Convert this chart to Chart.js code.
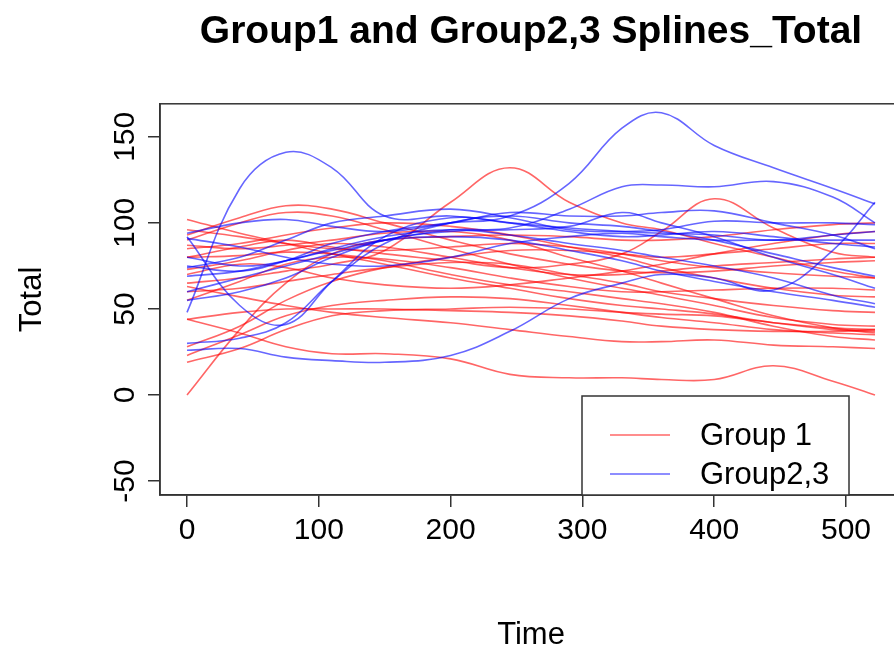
<!DOCTYPE html>
<html>
<head>
<meta charset="utf-8">
<script src="https://cdn.jsdelivr.net/npm/chart.js@4/dist/chart.umd.min.js"></script>
<style>
  html, body { margin: 0; padding: 0; overflow: hidden; background: #fff; width: 894px; height: 654px; }
  canvas { display: block; }
</style>
</head>
<body>
<canvas id="c" width="1063" height="654"></canvas>
<script>
// Knot times shared by every smoothed series
const TIME = [0, 40, 75, 110, 150, 200, 245, 290, 330, 360, 400, 445, 490, 522];

// Group 1 splines
const r01 = [65, 68, 72, 76, 84, 112, 132, 112, 100, 96, 88, 80, 72, 68];
const r02 = [80, 86, 90, 86, 82, 78, 74, 76, 82, 95, 114, 97, 83, 80];
const r03 = [44, 36, 28, 24, 24, 21, 12, 10, 10, 9, 9, 17, 8, 0];
const r04 = [0, 38, 65, 82, 90, 92, 93, 92, 90, 90, 92, 96, 99, 100];
const r05 = [19, 27, 38, 46, 49, 50, 51, 50, 48, 47, 46, 42, 39, 38];
const r06 = [23, 35, 46, 52, 55, 57, 56, 52, 48, 45, 42, 38, 36, 35];
const r07 = [102, 94, 88, 82, 76, 68, 62, 56, 52, 50, 47, 42, 38, 37];
const r08 = [96, 92, 88, 85, 84, 86, 88, 86, 82, 78, 74, 71, 69, 68];
const r09 = [93, 103, 110, 108, 100, 90, 82, 76, 72, 71, 72, 75, 77, 78];
const r10 = [90, 100, 106, 104, 96, 85, 76, 68, 62, 58, 52, 45, 41, 40];
const r11 = [87, 85, 87, 90, 94, 95, 90, 80, 72, 65, 56, 46, 39, 36];
const r12 = [80, 81, 83, 82, 78, 70, 64, 60, 56, 53, 48, 40, 34, 32];
const r13 = [73, 78, 84, 88, 86, 80, 74, 70, 70, 72, 75, 77, 79, 80];
const r14 = [63, 57, 52, 48, 45, 42, 38, 34, 31, 31, 32, 29, 28, 27];
const r15 = [55, 66, 76, 80, 79, 74, 68, 63, 60, 60, 61, 62, 62, 61];
const r16 = [44, 48, 50, 50, 50, 49, 48, 46, 43, 40, 38, 37, 37, 38];
const r17 = [70, 76, 74, 68, 64, 62, 64, 68, 72, 76, 82, 88, 93, 95];
const r18 = [85, 88, 93, 97, 100, 98, 93, 86, 80, 74, 68, 62, 58, 57];
const r19 = [60, 62, 66, 70, 74, 77, 76, 70, 65, 60, 56, 52, 49, 48];
const r20 = [28, 40, 55, 66, 74, 80, 84, 84, 82, 80, 82, 85, 88, 88];

// Group 2,3 splines
const b01 = [48, 120, 141, 132, 104, 104, 100, 95, 92, 93, 95, 92, 88, 86];
const b02 = [75, 72, 78, 88, 95, 100, 104, 123, 155, 164, 145, 132, 120, 111];
const b03 = [60, 68, 75, 82, 90, 96, 97, 108, 121, 122, 121, 124, 115, 100];
const b04 = [92, 52, 41, 66, 92, 103, 100, 97, 95, 94, 93, 90, 93, 95];
const b05 = [26, 27, 22, 20, 19, 23, 37, 56, 65, 70, 68, 61, 84, 112];
const b06 = [30, 33, 42, 66, 88, 100, 104, 100, 98, 95, 90, 82, 74, 69];
const b07 = [91, 86, 80, 76, 75, 80, 88, 92, 94, 92, 90, 90, 90, 90];
const b08 = [55, 60, 68, 80, 90, 95, 96, 98, 106, 100, 92, 80, 70, 62];
const b09 = [80, 75, 78, 85, 92, 96, 93, 88, 84, 80, 75, 68, 58, 53];
const b10 = [69, 72, 78, 84, 90, 92, 90, 84, 78, 72, 66, 60, 55, 51];
const b11 = [94, 100, 102, 98, 95, 100, 106, 104, 104, 106, 107, 100, 93, 85];
const b12 = [74, 80, 90, 100, 104, 108, 103, 96, 95, 96, 101, 100, 100, 99];

const GROUP1 = [r01, r02, r03, r04, r05, r06, r07, r08, r09, r10, r11, r12, r13, r14, r15, r16, r17, r18, r19, r20];
const GROUP23 = [b01, b02, b03, b04, b05, b06, b07, b08, b09, b10, b11, b12];

const X_TICKS = [0, 100, 200, 300, 400, 500];
const Y_TICKS = [-50, 0, 50, 100, 150];
const LEGEND_LABELS = ['Group 1', 'Group2,3'];
const TITLE = 'Group1 and Group2,3 Splines_Total';

const RED = 'rgba(255, 0, 0, 0.6)';
const BLUE = 'rgba(0, 0, 255, 0.6)';
const FONT = "'Liberation Sans', Arial, Helvetica, sans-serif";

Chart.defaults.font.family = FONT;
Chart.defaults.color = '#000';

function toPoints(series) {
  return series.map((v, i) => ({ x: TIME[i], y: v }));
}

const datasets = [];
GROUP23.forEach(s => datasets.push({ data: toPoints(s), borderColor: BLUE }));
GROUP1.forEach(s => datasets.push({ data: toPoints(s), borderColor: RED }));

// Plot frame drawn around the whole plotting region
const frame = {
  id: 'frame',
  afterDatasetsDraw(chart) {
    const { ctx, chartArea: a } = chart;
    ctx.save();
    ctx.strokeStyle = '#333';
    ctx.lineWidth = 1.5;
    ctx.strokeRect(a.left, a.top, a.right - a.left, a.bottom - a.top);
    ctx.restore();
  }
};

// Boxed key in the lower right of the plot
const keyBox = {
  id: 'keyBox',
  afterDraw(chart) {
    const { ctx, chartArea: a } = chart;
    const left = 582, top = 396, right = 849, bottom = a.bottom;
    ctx.save();
    ctx.fillStyle = '#fff';
    ctx.fillRect(left, top, right - left, bottom - top);
    ctx.strokeStyle = '#333';
    ctx.lineWidth = 1.5;
    ctx.strokeRect(left, top, right - left, bottom - top);
    const colors = [RED, BLUE];
    const rows = [435, 474];
    ctx.font = '31px ' + FONT;
    ctx.textBaseline = 'middle';
    ctx.textAlign = 'left';
    LEGEND_LABELS.forEach((label, i) => {
      ctx.strokeStyle = colors[i];
      ctx.lineWidth = 1.6;
      ctx.beginPath();
      ctx.moveTo(610, rows[i]);
      ctx.lineTo(670, rows[i]);
      ctx.stroke();
      ctx.fillStyle = '#000';
      ctx.fillText(label, 700, rows[i] + 1);
    });
    ctx.restore();
  }
};

new Chart(document.getElementById('c'), {
  type: 'line',
  data: { datasets },
  options: {
    responsive: false,
    animation: false,
    devicePixelRatio: 1,
    layout: { padding: { left: 0, right: 161, top: 0, bottom: 0 } },
    elements: {
      point: { radius: 0 },
      line: { borderWidth: 1.6, tension: 0.4, cubicInterpolationMode: 'default', fill: false }
    },
    plugins: {
      legend: { display: false },
      tooltip: { enabled: false },
      title: {
        display: true,
        text: TITLE,
        fullSize: false,
        color: '#000',
        font: { size: 39, weight: 'bold', family: FONT },
        padding: { top: 9, bottom: 48 }
      }
    },
    scales: {
      x: {
        type: 'linear',
        min: -20.5,
        max: 542.5,
        afterFit(s) { s.height = 159; },
        afterBuildTicks(s) { s.ticks = X_TICKS.map(v => ({ value: v })); },
        grid: { drawOnChartArea: false, drawTicks: true, tickLength: 12, color: '#333', lineWidth: 1.5 },
        border: { display: true, color: '#333', width: 1.5 },
        ticks: { font: { size: 30 }, padding: 6, maxRotation: 0, autoSkip: false },
        title: { display: true, text: 'Time', font: { size: 31 }, padding: { top: 0, bottom: 0 } }
      },
      y: {
        type: 'linear',
        min: -58.1,
        max: 169.2,
        afterFit(s) { s.width = 160; },
        afterBuildTicks(s) { s.ticks = Y_TICKS.map(v => ({ value: v })); },
        grid: { drawOnChartArea: false, drawTicks: true, tickLength: 12, color: '#333', lineWidth: 1.5 },
        border: { display: true, color: '#333', width: 1.5 },
        ticks: { font: { size: 30 }, minRotation: 90, maxRotation: 90, crossAlign: 'center', padding: -3, autoSkip: false },
        title: { display: true, text: 'Total', font: { size: 31 }, padding: { top: 14, bottom: 0 } }
      }
    }
  },
  plugins: [frame, keyBox]
});
</script>
</body>
</html>
